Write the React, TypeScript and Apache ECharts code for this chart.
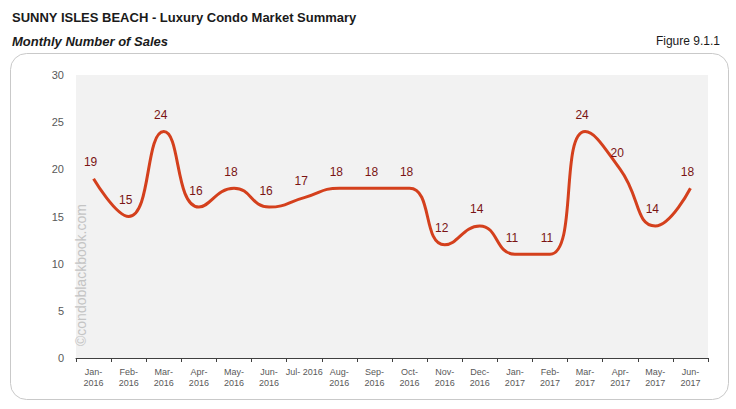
import React, { useEffect, useRef } from 'react';
import * as echarts from 'echarts';

// Monthly number of sales, Jan 2016 - Jun 2017
const months = [
  'Jan-\n2016', 'Feb-\n2016', 'Mar-\n2016', 'Apr-\n2016', 'May-\n2016', 'Jun-\n2016',
  'Jul- 2016', 'Aug-\n2016', 'Sep-\n2016', 'Oct-\n2016', 'Nov-\n2016', 'Dec-\n2016',
  'Jan-\n2017', 'Feb-\n2017', 'Mar-\n2017', 'Apr-\n2017', 'May-\n2017', 'Jun-\n2017',
];
const sales = [19, 15, 24, 16, 18, 16, 17, 18, 18, 18, 12, 14, 11, 11, 24, 20, 14, 18];

const FONT = '"Liberation Sans", Arial, sans-serif';

const App: React.FC = () => {
  const chartRef = useRef<HTMLDivElement>(null);

  useEffect(() => {
    if (!chartRef.current) return;
    const chart = echarts.init(chartRef.current, undefined, { renderer: 'svg' });

    const option = {
      animation: false,
      backgroundColor: '#ffffff',
      textStyle: { fontFamily: FONT },
      graphic: [
        {
          type: 'rect',
          z: -10,
          shape: { x: 10.5, y: 53.5, width: 718, height: 346, r: 16 },
          style: { fill: '#ffffff', stroke: '#c9c9c9', lineWidth: 1 },
        },
        {
          type: 'text',
          x: 12,
          y: 17,
          style: {
            text: 'SUNNY ISLES BEACH - Luxury Condo Market Summary',
            font: `bold 13px ${FONT}`,
            fill: '#1a1a1a',
            textVerticalAlign: 'middle',
          },
        },
        {
          type: 'text',
          x: 12,
          y: 41,
          style: {
            text: 'Monthly Number of Sales',
            font: `italic bold 13px ${FONT}`,
            fill: '#1a1a1a',
            textVerticalAlign: 'middle',
          },
        },
        {
          type: 'text',
          x: 720,
          y: 41,
          style: {
            text: 'Figure 9.1.1',
            font: `12px ${FONT}`,
            fill: '#1a1a1a',
            textAlign: 'right',
            textVerticalAlign: 'middle',
          },
        },
        {
          type: 'text',
          x: 81,
          y: 346,
          rotation: Math.PI / 2,
          z: 10,
          style: {
            text: '©condoblackbook.com',
            font: `14px ${FONT}`,
            fill: '#c4c4c4',
            textAlign: 'left',
            textVerticalAlign: 'middle',
          },
        },
      ],
      grid: {
        left: 76,
        right: 28,
        top: 75,
        bottom: 51,
        show: true,
        backgroundColor: '#f2f2f2',
        borderWidth: 0,
      },
      xAxis: {
        type: 'category',
        data: months,
        boundaryGap: true,
        axisLine: { lineStyle: { color: '#404040', width: 1 } },
        axisTick: { show: true, length: 4, lineStyle: { color: '#404040' } },
        axisLabel: {
          interval: 0,
          fontSize: 9,
          lineHeight: 11,
          color: '#595959',
          margin: 8,
        },
      },
      yAxis: {
        type: 'value',
        min: 0,
        max: 30,
        interval: 5,
        axisLine: { show: false },
        axisTick: { show: false },
        splitLine: { show: false },
        axisLabel: { fontSize: 11, color: '#595959', margin: 12 },
      },
      series: [
        {
          type: 'line',
          data: sales,
          smooth: 0.5,
          symbol: 'circle',
          symbolSize: 1,
          showSymbol: true,
          itemStyle: { color: 'rgba(0,0,0,0)' },
          lineStyle: { color: '#d4401d', width: 3 },
          label: {
            show: true,
            position: 'top',
            distance: 10,
            offset: [-3, 0],
            fontSize: 12,
            color: '#7a1414',
          },
        },
      ],
    };

    chart.setOption(option);
    return () => {
      chart.dispose();
    };
  }, []);

  return (
    <div
      ref={chartRef}
      style={{ position: 'fixed', left: 0, top: 0, width: '736px', height: '409px' }}
    />
  );
};

export default App;
